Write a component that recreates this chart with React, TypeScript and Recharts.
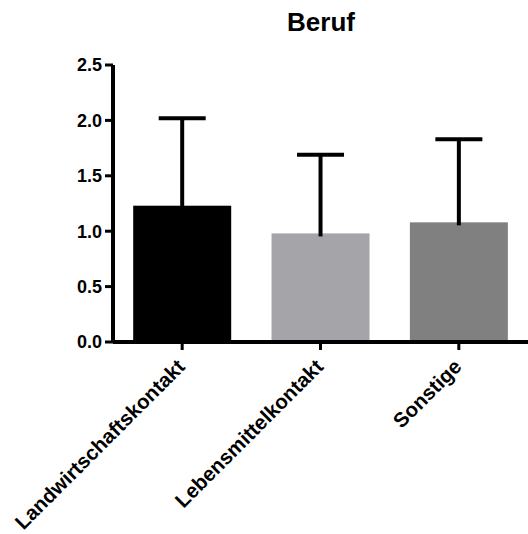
import React from 'react';
import { BarChart, Bar, XAxis, YAxis, Cell } from 'recharts';

const categories = ['Landwirtschaftskontakt', 'Lebensmittelkontakt', 'Sonstige'];
const means = [1.23, 0.98, 1.08];
const sds = [0.79, 0.71, 0.75];
const colors = ['#000000', '#a5a4a9', '#808080'];
const yTicks = [0, 0.5, 1.0, 1.5, 2.0, 2.5];

const data = categories.map((name, i) => ({ name, value: means[i], err: sds[i] }));

const FONT = '"Liberation Sans", Arial, Helvetica, sans-serif';

const BarWithError = (props: any) => {
  const { x, y, width, height, fill, payload } = props;
  const ppu = height / payload.value;
  const topY = y + height - (payload.value + payload.err) * ppu;
  const cx = x + width / 2;
  const capHalf = 23.5;
  return (
    <g>
      <rect x={x} y={y} width={width} height={height} fill={fill} />
      <line x1={cx} y1={y + 3} x2={cx} y2={topY} stroke="#000" strokeWidth={4} />
      <line x1={cx - capHalf} y1={topY} x2={cx + capHalf} y2={topY} stroke="#000" strokeWidth={4} />
    </g>
  );
};

const XTick = (props: any) => {
  const { x, y, payload } = props;
  return (
    <g transform={`translate(${x + 4},${y + 16})`}>
      <text
        x={0}
        y={0}
        transform="rotate(-45)"
        textAnchor="end"
        fontFamily={FONT}
        fontWeight="bold"
        fontSize={20.5}
        fill="#000"
      >
        {payload.value}
      </text>
    </g>
  );
};

export default function App() {
  return (
    <div style={{ position: 'absolute', left: 0, top: 0, width: 528, height: 534, background: '#fff' }}>
      <div
        style={{
          position: 'absolute',
          left: 0,
          width: 642,
          top: 7,
          textAlign: 'center',
          fontFamily: FONT,
          fontWeight: 'bold',
          fontSize: 26,
          lineHeight: '30px',
          color: '#000',
        }}
      >
        Beruf
      </div>
      <BarChart
        width={528}
        height={534}
        data={data}
        margin={{ top: 65, right: 0, bottom: 0, left: 0 }}
        barCategoryGap="14.6%"
      >
        <XAxis
          dataKey="name"
          height={192}
          tick={<XTick />}
          tickSize={8}
          axisLine={{ stroke: '#000', strokeWidth: 4 }}
          tickLine={{ stroke: '#000', strokeWidth: 3 }}
          interval={0}
        />
        <YAxis
          width={113}
          domain={[0, 2.5]}
          ticks={yTicks}
          tickFormatter={(v: number) => v.toFixed(1)}
          tickSize={8}
          tickMargin={3}
          axisLine={{ stroke: '#000', strokeWidth: 4 }}
          tickLine={{ stroke: '#000', strokeWidth: 3 }}
          tick={{ fill: '#000', fontFamily: FONT, fontWeight: 'bold', fontSize: 18 }}
        />
        <Bar dataKey="value" isAnimationActive={false} shape={<BarWithError />}>
          {data.map((d, i) => (
            <Cell key={d.name} fill={colors[i]} />
          ))}
        </Bar>
      </BarChart>
    </div>
  );
}
